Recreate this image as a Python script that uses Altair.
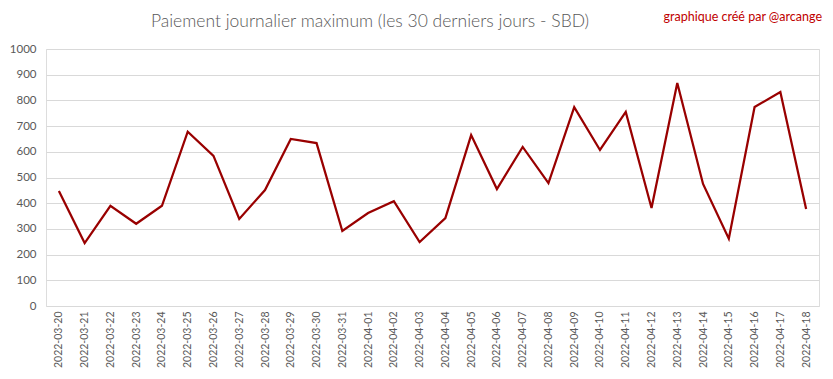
import altair as alt
import pandas as pd

dates = ["2022-03-20", "2022-03-21", "2022-03-22", "2022-03-23", "2022-03-24",
         "2022-03-25", "2022-03-26", "2022-03-27", "2022-03-28", "2022-03-29",
         "2022-03-30", "2022-03-31", "2022-04-01", "2022-04-02", "2022-04-03",
         "2022-04-04", "2022-04-05", "2022-04-06", "2022-04-07", "2022-04-08",
         "2022-04-09", "2022-04-10", "2022-04-11", "2022-04-12", "2022-04-13",
         "2022-04-14", "2022-04-15", "2022-04-16", "2022-04-17", "2022-04-18"]
values = [447, 245, 390, 320, 390,
          678, 584, 339, 451, 650,
          634, 292, 362, 408, 249,
          342, 665, 455, 619, 478,
          774, 607, 755, 381, 868,
          475, 262, 774, 833, 377]
y_ticks = [0, 100, 200, 300, 400, 500, 600, 700, 800, 900, 1000]
title_text = ["Paiement journalier maximum (les 30 derniers jours - SBD)"]
note_text = ["graphique créé par @arcange"]

df = pd.DataFrame({"date": dates, "value": values})

FONT = "Lato"
GRAY = "#595959"

line = alt.Chart(df).mark_line(color="#990000", strokeWidth=2.25, strokeJoin="miter").encode(
    x=alt.X("date:O", sort=None, title=None,
            scale=alt.Scale(type="point", padding=0.5),
            axis=alt.Axis(labelAngle=-90, labelFontSize=10.5, labelColor=GRAY, labelFont=FONT,
                          ticks=False, domain=False, labelPadding=5, grid=False)),
    y=alt.Y("value:Q", title=None,
            scale=alt.Scale(domain=[0, 1000], nice=False),
            axis=alt.Axis(values=y_ticks, format="d", labelFontSize=11.5, labelColor=GRAY,
                          labelFont=FONT, ticks=False, domain=False, labelPadding=10,
                          gridColor="#d9d9d9", gridWidth=1)),
)

title = alt.Chart(pd.DataFrame({"t": title_text})).mark_text(
    align="center", baseline="middle", font=FONT, fontSize=17.5, fontWeight=300, color=GRAY
).encode(x=alt.value(324), y=alt.value(-27), text="t:N")

note = alt.Chart(pd.DataFrame({"t": note_text})).mark_text(
    align="right", baseline="middle", font=FONT, fontSize=12.5, color="#C00000"
).encode(x=alt.value(776), y=alt.value(-32), text="t:N")

chart = alt.layer(line, title, note).properties(
    width=773, height=257,
    padding={"left": 38, "top": 41, "right": 4, "bottom": 65},
    autosize=alt.AutoSizeParams(type="none"),
).configure_view(stroke=None).configure(background="white")

chart.save("out.html", embed_options={"renderer": "svg", "actions": False})
